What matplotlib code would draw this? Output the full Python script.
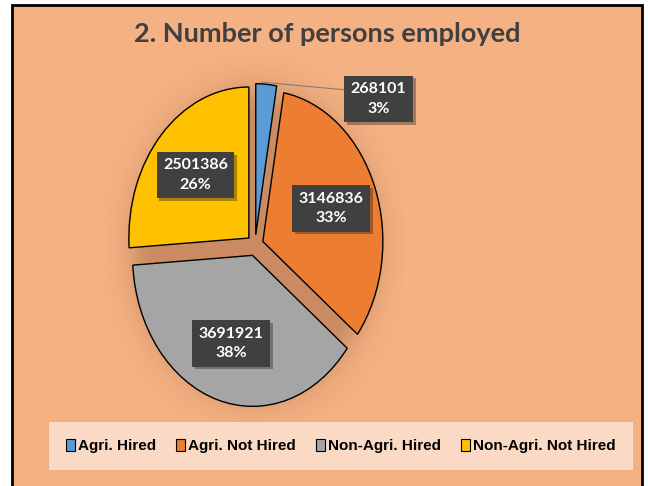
import numpy as np
import matplotlib
matplotlib.use("Agg")
import matplotlib.pyplot as plt
import matplotlib.patheffects as pe
from matplotlib.patches import Rectangle

categories = ["Agri. Hired", "Agri. Not Hired", "Non-Agri. Hired", "Non-Agri. Not Hired"]
values = [268101, 3146836, 3691921, 2501386]
colors = ["#5B9BD5", "#ED7D31", "#A5A5A5", "#FFC000"]
title = "2. Number of persons employed"

W, H = 648, 486
fig = plt.figure(figsize=(W / 100, H / 100), dpi=100, facecolor="white")

# peach panel with black frame
fig.patches.append(Rectangle((12 / W, -0.05), 630 / W, 1.05 - 5 / H, transform=fig.transFigure,
                             facecolor="#F4B183", edgecolor="black", linewidth=2, zorder=-5))

fig.text(327 / W, 1 - 34 / H, title, ha="center", va="center", fontsize=19.5,
         fontweight="bold", color="#404040", family=["Lato", "DejaVu Sans"])

# pie axes (stretched, so the pie is an ellipse)
ax = fig.add_axes([105 / W, 52 / H, 300 / W, 377.5 / H])
ax.set_zorder(1)
ax.axis("off")

# soft shadow around the pie
gx, gy = np.meshgrid(np.linspace(-1.25, 1.25, 300), np.linspace(-1.25, 1.25, 300))
rr = np.sqrt(gx ** 2 + gy ** 2)
glow = np.zeros((300, 300, 4))
glow[..., 0] = 0.55
glow[..., 1] = 0.33
glow[..., 2] = 0.2
glow[..., 3] = 0.4 * np.exp(-((np.clip(rr - 0.85, 0, None)) / 0.22) ** 2)
ax.imshow(glow, extent=(-1.25, 1.25, -1.25, 1.25), origin="lower", aspect="auto", zorder=0)

wedges, _ = ax.pie(values, colors=colors, startangle=90, counterclock=False,
                   explode=[0.07] * 4, wedgeprops=dict(edgecolor="black", linewidth=1))
ax.set_aspect("auto")
ax.set_xlim(-1.25, 1.25)
ax.set_ylim(-1.25, 1.25)
ax.axis("off")

total = sum(values)
box = dict(boxstyle="square,pad=0.4", facecolor="#404040", edgecolor="none")
lbl = dict(ha="center", va="center", fontsize=11.5, fontweight="bold", color="white",
           linespacing=1.5, family=["Lato", "DejaVu Sans"], bbox=box)
for i, w in enumerate(wedges):
    mid = np.deg2rad((w.theta1 + w.theta2) / 2)
    txt = f"{values[i]}\n{values[i] / total:.0%}"
    if i == 0:
        t = ax.annotate(txt, xy=(0.06, 1.08), xytext=(1.03, 0.97),
                        arrowprops=dict(arrowstyle="-", color="#7F7F7F", lw=0.8,
                                        shrinkA=0, shrinkB=0, relpos=(0, 0.75)), **lbl)
    else:
        t = ax.text(0.68 * np.cos(mid), 0.68 * np.sin(mid), txt, **lbl)
    t.get_bbox_patch().set_path_effects([pe.SimplePatchShadow(offset=(2, -2), alpha=0.35), pe.Normal()])

leg = fig.legend(wedges, categories, loc="center", bbox_to_anchor=(341 / W, 1 - 446 / H),
                 ncol=4, frameon=True, fancybox=False, handlelength=0.6, handleheight=0.9,
                 handletextpad=0.2, columnspacing=1.3, borderpad=1.1,
                 prop=dict(family=["Liberation Sans", "DejaVu Sans"], weight="bold", size=11))
leg.get_frame().set_facecolor("#FCE4D6")
leg.get_frame().set_edgecolor("none")
for h in leg.legend_handles:
    h.set_linewidth(0.8)

fig.savefig("out.png", dpi=100, facecolor=fig.get_facecolor())
